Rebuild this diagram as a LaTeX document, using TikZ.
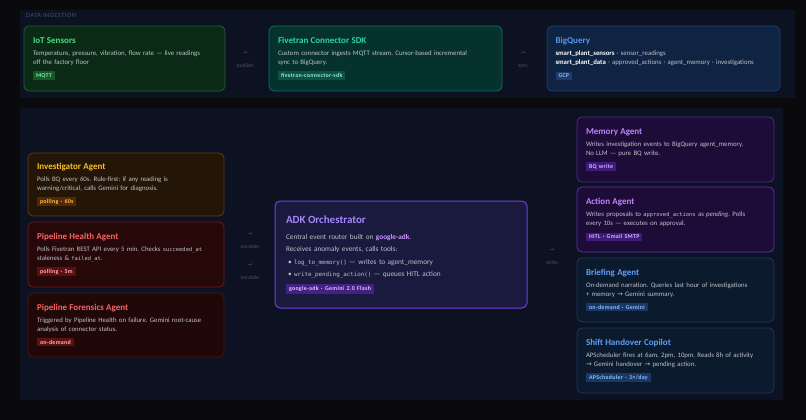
\documentclass[tikz,border=0pt]{standalone}
\usepackage{fontspec}
\setmainfont{Carlito}
\setmonofont{DejaVu Sans Mono}[Scale=0.8]
\newfontfamily\symfont{DejaVu Sans}
\definecolor{pagebg}{RGB}{10,10,12}
\definecolor{panelbg}{RGB}{12,18,34}
\definecolor{bodytext}{RGB}{190,193,200}
\definecolor{flowtext}{RGB}{72,82,104}
% card colours
\definecolor{iotfill}{RGB}{11,42,22}
\definecolor{iotline}{RGB}{26,96,48}
\definecolor{iottitle}{RGB}{74,222,128}
\definecolor{iottag}{RGB}{22,88,44}
\definecolor{iottagtext}{RGB}{120,236,158}
\definecolor{ftfill}{RGB}{6,50,46}
\definecolor{ftline}{RGB}{22,108,94}
\definecolor{fttitle}{RGB}{45,212,172}
\definecolor{fttag}{RGB}{14,80,70}
\definecolor{fttagtext}{RGB}{140,232,212}
\definecolor{bqfill}{RGB}{15,35,66}
\definecolor{bqline}{RGB}{32,60,104}
\definecolor{bqtitle}{RGB}{84,150,240}
\definecolor{bqtag}{RGB}{32,60,106}
\definecolor{bqtagtext}{RGB}{150,186,240}
\definecolor{invfill}{RGB}{36,22,6}
\definecolor{invline}{RGB}{96,60,16}
\definecolor{invtitle}{RGB}{250,190,40}
\definecolor{invtag}{RGB}{82,40,6}
\definecolor{invtagtext}{RGB}{252,196,70}
\definecolor{redfill}{RGB}{38,8,9}
\definecolor{redline}{RGB}{108,24,26}
\definecolor{redtitle}{RGB}{245,100,100}
\definecolor{redtag}{RGB}{92,16,18}
\definecolor{redtagtext}{RGB}{252,176,176}
\definecolor{adkfill}{RGB}{26,26,62}
\definecolor{adkline}{RGB}{112,62,222}
\definecolor{adktitle}{RGB}{164,134,250}
\definecolor{adkkey}{RGB}{204,150,255}
\definecolor{adktag}{RGB}{70,32,132}
\definecolor{adktagtext}{RGB}{222,192,255}
\definecolor{vlfill}{RGB}{30,12,56}
\definecolor{vlline}{RGB}{82,40,142}
\definecolor{vltitle}{RGB}{192,132,252}
\definecolor{vltag}{RGB}{62,26,122}
\definecolor{vltagtext}{RGB}{212,182,255}
\definecolor{nvfill}{RGB}{12,26,46}
\definecolor{nvline}{RGB}{30,56,92}
\definecolor{nvtitle}{RGB}{92,160,246}
\definecolor{nvtag}{RGB}{26,56,100}
\definecolor{nvtagtext}{RGB}{144,190,250}
\newcommand\cardtitle[2]{{\color{#1}\fontsize{9}{11}\selectfont\bfseries #2}}
\newcommand\cardtag[3]{{\fboxsep=2pt\colorbox{#1}{\hspace{1pt}\color{#2}\fontsize{5.9}{6.5}\selectfont\bfseries\addfontfeatures{LetterSpace=5}#3\hspace{1pt}}}}
\tikzset{
  card/.style={rounded corners=5pt,line width=0.8pt,align=left,inner sep=0pt,text=bodytext,font=\fontsize{6.8}{9}\selectfont\frenchspacing},
  greencard/.style={card,draw=iotline,fill=iotfill},
  tealcard/.style={card,draw=ftline,fill=ftfill},
  bluecard/.style={card,draw=bqline,fill=bqfill},
  ambercard/.style={card,draw=invline,fill=invfill},
  redcard/.style={card,draw=redline,fill=redfill},
  adkcard/.style={card,draw=adkline,fill=adkfill,line width=1pt,font=\fontsize{7.3}{12.3}\selectfont\frenchspacing},
  violetcard/.style={card,draw=vlline,fill=vlfill},
  navycard/.style={card,draw=nvline,fill=nvfill},
  flow/.style={align=center,inner sep=0pt,text=flowtext,font=\fontsize{5.6}{7}\selectfont},
  lane/.style={anchor=west,inner sep=0pt,text=flowtext,font=\fontsize{6.4}{7}\selectfont\addfontfeatures{LetterSpace=8}},
}
\begin{document}
\begin{tikzpicture}[x=1pt,y=-1pt]
  \useasboundingbox[fill=pagebg] (0,0) rectangle (806,420);
  \fill[panelbg] (20,10) rectangle (795,98);
  \fill[panelbg] (20,108) rectangle (783,400);
  \node[lane] (ingest) at (26,15) {DATA INGESTION};

  % ingestion row
  \node[greencard,minimum width=201pt,minimum height=65pt,text width=183pt] (iot) at (124.5,58.5)
    {\cardtitle{iottitle}{IoT Sensors}\\[3pt]Temperature, pressure, vibration, flow rate --- live readings\\off the factory floor\\[4pt]\cardtag{iottag}{iottagtext}{MQTT}};
  \node[tealcard,minimum width=233pt,minimum height=65pt,text width=215pt] (sdk) at (385.5,58.5)
    {\cardtitle{fttitle}{Fivetran Connector SDK}\\[3pt]Custom connector ingests MQTT stream. Cursor-based incremental\\sync to BigQuery.\\[4pt]\cardtag{fttag}{fttagtext}{fivetran-connector-sdk}};
  \node[bluecard,minimum width=233pt,minimum height=65pt,text width=216pt] (bq) at (663.5,58.5)
    {\cardtitle{bqtitle}{BigQuery}\\[3pt]{\color{white}\bfseries smart\_plant\_sensors} · sensor\_readings\\{\color{white}\bfseries smart\_plant\_data} · approved\_actions · agent\_memory · investigations\\[4pt]\cardtag{bqtag}{bqtagtext}{GCP}};
  \node[flow] (publish) at (245,59.5) {{\symfont →}\\[6pt]publish};
  \node[flow] (sync) at (523,60) {{\symfont →}\\[6pt]sync};

  % watchers
  \node[ambercard,minimum width=196pt,minimum height=63pt,text width=178pt] (inv) at (126,184.5)
    {\cardtitle{invtitle}{Investigator Agent}\\[3pt]Polls BQ every 60s. Rule-first: if any reading is\\warning/critical, calls Gemini for diagnosis.\\[4pt]\cardtag{invtag}{invtagtext}{polling · 60s}};
  \node[redcard,minimum width=196pt,minimum height=65pt,text width=178pt] (health) at (126,254.5)
    {\cardtitle{redtitle}{Pipeline Health Agent}\\[3pt]Polls Fivetran REST API every 5 min. Checks \texttt{succeeded\_at}\\staleness \& \texttt{failed\_at}.\\[4pt]\cardtag{redtag}{redtagtext}{polling · 5m}};
  \node[redcard,draw=redline!75!black,fill=redfill!85!black,minimum width=196pt,minimum height=64pt,text width=178pt] (forensics) at (126,325)
    {\cardtitle{redtitle}{Pipeline Forensics Agent}\\[3pt]Triggered by Pipeline Health on failure. Gemini root-cause\\analysis of connector status.\\[4pt]\cardtag{redtag}{redtagtext}{on-demand}};
  \node[flow] (esc1) at (250,241) {{\symfont →}\\[6pt]escalate};
  \node[flow] (esc2) at (250,271.5) {{\symfont →}\\[6pt]escalate};

  % orchestrator
  \node[adkcard,minimum width=252pt,minimum height=107pt,text width=230pt] (adk) at (401,254.5)
    {{\color{adktitle}\fontsize{11}{13}\selectfont\bfseries ADK Orchestrator}\\[4pt]Central event router built on {\color{adkkey}\bfseries google-adk}.\\Receives anomaly events, calls tools:\\\hspace{2pt}• \texttt{log\_to\_memory()} --- writes to agent\_memory\\\hspace{2pt}• \texttt{write\_pending\_action()} --- queues HITL action\\[2pt]\cardtag{adktag}{adktagtext}{google-adk · Gemini 2.0 Flash}};
  \node[flow] (write) at (552,256.5) {{\symfont →}\\[6pt]write};

  % actors
  \node[violetcard,minimum width=197pt,minimum height=65pt,text width=179pt] (memory) at (675.5,149.5)
    {\cardtitle{vltitle}{Memory Agent}\\[3pt]Writes investigation events to BigQuery agent\_memory.\\No LLM --- pure BQ write.\\[4pt]\cardtag{vltag}{vltagtext}{BQ write}};
  \node[violetcard,draw=adkline!80!black,minimum width=197pt,minimum height=65pt,text width=179pt] (action) at (675.5,219.5)
    {\cardtitle{vltitle}{Action Agent}\\[3pt]Writes proposals to \texttt{approved\_actions} as \emph{pending}. Polls\\every 10s --- executes on approval.\\[4pt]\cardtag{vltag}{vltagtext}{HITL · Gmail SMTP}};
  \node[navycard,minimum width=197pt,minimum height=64pt,text width=179pt] (briefing) at (675.5,290)
    {\cardtitle{nvtitle}{Briefing Agent}\\[3pt]On-demand narration. Queries last hour of investigations\\+ memory {\symfont →} Gemini summary.\\[4pt]\cardtag{nvtag}{nvtagtext}{on-demand · Gemini}};
  \node[navycard,minimum width=197pt,minimum height=65pt,text width=179pt] (handover) at (675.5,360.5)
    {\cardtitle{nvtitle}{Shift Handover Copilot}\\[3pt]APScheduler fires at 6am, 2pm, 10pm. Reads 8h of activity\\{\symfont →} Gemini handover {\symfont →} pending action.\\[4pt]\cardtag{nvtag}{nvtagtext}{APScheduler · 3×/day}};
\end{tikzpicture}
\end{document}
